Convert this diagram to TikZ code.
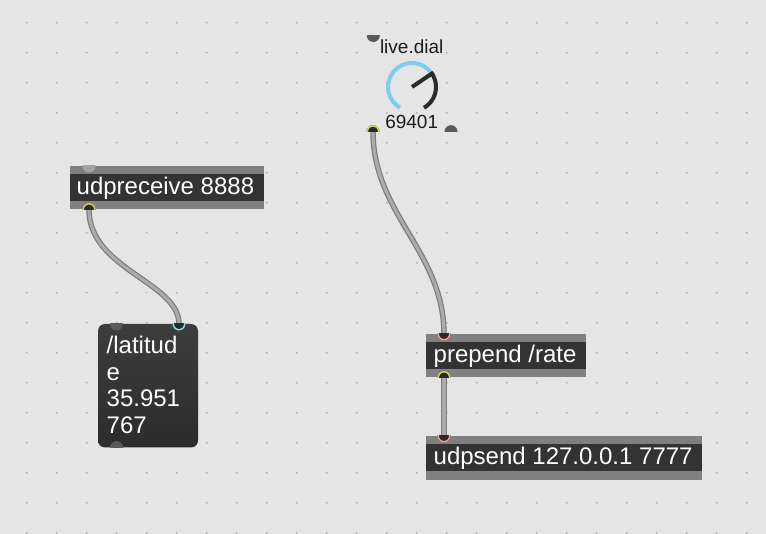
\documentclass[tikz,border=0pt]{standalone}
\usepackage{fontspec}
\setmainfont{Liberation Sans}
\usetikzlibrary{calc}
\definecolor{bgc}{HTML}{E5E5E5}
\definecolor{dotc}{HTML}{B4B4B4}
\definecolor{stripc}{HTML}{808080}
\definecolor{darkc}{HTML}{333333}
\definecolor{cableedge}{HTML}{7C7C7C}
\definecolor{cablefill}{HTML}{ABABAB}
\definecolor{ringyellow}{HTML}{D6D25E}
\definecolor{ringsalmon}{HTML}{F2A38E}
\definecolor{ringcyan}{HTML}{8FD6EE}
\definecolor{dialblue}{HTML}{7DCDF2}
\definecolor{dialdark}{HTML}{2B2B2B}
\definecolor{portgray}{HTML}{5A5A5A}
\definecolor{portlight}{HTML}{A3A3A3}
\definecolor{portdark}{HTML}{2A2A2A}
\definecolor{msgtop}{HTML}{3D3D3D}
\definecolor{msgbot}{HTML}{2C2C2C}
\definecolor{textdark}{HTML}{1C1C1C}
\pgfdeclarelayer{bglayer}
\pgfdeclarelayer{cablelayer}
\pgfsetlayers{bglayer,cablelayer,main}
% inlet: lower half of a disc, below the point (y grows downwards here)
\newcommand\mxIn[3]{%
  \begin{scope}
    \clip ($(#1)+(-8,0)$) rectangle ($(#1)+(8,8)$);
    \fill[#2] (#1) circle[radius=6.5];
    \draw[#3,line width=1.5pt] (#1) circle[radius=5.75];
  \end{scope}}
% outlet: upper half of a disc, above the point
\newcommand\mxOut[3]{%
  \begin{scope}
    \clip ($(#1)+(-8,0)$) rectangle ($(#1)+(8,-8)$);
    \fill[#2] (#1) circle[radius=6.5];
    \draw[#3,line width=1.5pt] (#1) circle[radius=5.75];
  \end{scope}}
\tikzset{
  objbox/.style={fill=stripc, inner sep=0pt, outer sep=0pt, anchor=north west,
    minimum height=43.5pt,
    path picture={\fill[darkc] ([yshift=-7.8pt]path picture bounding box.north west)
      rectangle ([yshift=8pt]path picture bounding box.south east);}},
  msgbox/.style={inner sep=0pt, outer sep=0pt, anchor=north west, rounded corners=7pt,
    top color=msgtop, bottom color=msgbot},
  boxtext/.style={anchor=base west, inner sep=0pt, text=white,
    font=\fontsize{24}{28}\selectfont},
  dialtext/.style={anchor=base, inner sep=0pt, text=textdark,
    font=\fontsize{19}{22}\selectfont},
  cable/.style={draw=cableedge, line width=1.2pt, double=cablefill, double distance=3.1pt},
}
\begin{document}
\begin{tikzpicture}[x=1pt,y=-1pt]
\useasboundingbox (0,0) rectangle (766,534);
\begin{pgfonlayer}{bglayer}
\fill[bgc] (0,0) rectangle (766,534);
\foreach \i in {0,...,24}
  \foreach \j in {0,...,17}
    \fill[dotc] (26.7+30*\i,22.7+30*\j) circle[radius=1.1];
\end{pgfonlayer}

% boxes
\node[objbox, minimum width=194pt] (recv) at (70,166) {};
\node[objbox, minimum width=160pt] (prep) at (426,334) {};
\node[objbox, minimum width=276pt] (send) at (426,436) {};
\node[msgbox, minimum width=100pt, minimum height=123.5pt] (msg) at (98,324) {};

% dial
\coordinate (dialc) at (412,87);
\coordinate (dialIn) at (373.3,35.5);
\coordinate (dialOut) at (373,131.7);
\coordinate (dialOut2) at (451,131.7);
\draw[dialblue, line width=4pt] (dialc) ++(120:24) arc[start angle=120,end angle=326,radius=24];
\draw[dialdark, line width=4pt] (dialc) ++(326:24) arc[start angle=326,end angle=420,radius=24];
\draw[dialdark, line width=4pt] (dialc) -- ++(-34:26);
\node[dialtext] (dialname) at (411.7,53.3) {live.dial};
\node[dialtext] (dialval) at (411.7,128.3) {69401};

% ports
\coordinate (recvIn) at ([xshift=19pt]recv.north west);
\coordinate (recvOut) at ([xshift=19pt]recv.south west);
\coordinate (prepIn) at ([xshift=18pt]prep.north west);
\coordinate (prepOut) at ([xshift=18pt]prep.south west);
\coordinate (sendIn) at ([xshift=18pt]send.north west);
\coordinate (msgIn) at ([xshift=18.5pt]msg.north west);
\coordinate (msgIn2) at ([xshift=-19pt]msg.north east);
\coordinate (msgOut) at ([xshift=18.5pt]msg.south west);

% cables, under the boxes
\begin{pgfonlayer}{cablelayer}
\draw[cable] (recvOut) .. controls +(0,60) and +(0,-42) .. (msgIn2);
\draw[cable] (dialOut) .. controls +(0,82) and +(0,-82) .. (prepIn);
\draw[cable] (prepOut) -- (sendIn);
\end{pgfonlayer}

\mxIn{recvIn}{portlight}{draw=none}
\mxOut{recvOut}{portdark}{ringyellow}
\mxIn{prepIn}{portdark}{ringsalmon}
\mxOut{prepOut}{portdark}{ringyellow}
\mxIn{sendIn}{portdark}{ringsalmon}
\mxIn{msgIn}{portgray}{draw=none}
\mxIn{msgIn2}{portdark}{ringcyan}
\mxOut{msgOut}{portgray}{draw=none}
\mxIn{dialIn}{portgray}{draw=none}
\mxOut{dialOut}{portdark}{ringyellow}
\mxOut{dialOut2}{portgray}{draw=none}

% texts
\node[boxtext] (recvtext) at (76.5,194.3) {udpreceive 8888};
\node[boxtext] (preptext) at (433.5,362.7) {prepend /rate};
\node[boxtext] (sendtext) at (433.5,464.3) {udpsend 127.0.0.1 7777};
\node[boxtext] (msgl1) at (106.5,354) {/latitud};
\node[boxtext] (msgl2) at (106.5,380.5) {e};
\node[boxtext] (msgl3) at (106.5,407) {35.951};
\node[boxtext] (msgl4) at (106.5,433.5) {767};
\end{tikzpicture}
\end{document}
